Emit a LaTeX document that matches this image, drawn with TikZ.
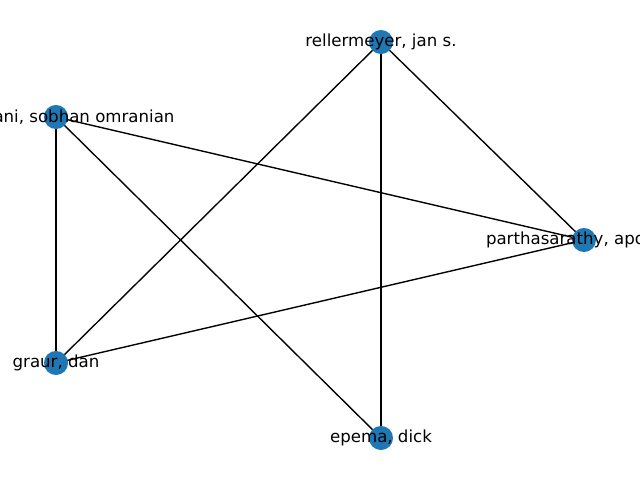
\documentclass[tikz,border=0pt]{standalone}
\usepackage{fontspec}
\setmainfont{DejaVu Sans}
\usetikzlibrary{backgrounds}
\definecolor{nodeblue}{HTML}{1F77B4}
\tikzstyle{author}=[circle, fill=nodeblue, minimum size=17.4pt, inner sep=0pt]
\tikzstyle{authorname}=[inner sep=0pt, font=\fontsize{12pt}{14pt}\selectfont]
\tikzstyle{coauthor}=[line width=1pt, black]

\begin{document}
\begin{tikzpicture}[x=0.01in, y=-0.01in]
\useasboundingbox (0,0) rectangle (640,480);
\clip (0,0) rectangle (640,480);
	\node[author](rell)at (381,42){};
\node[author](omra)at (56,117){};
\node[author](part)at (584,240){};
\node[author](grau)at (56,363){};
\node[author](epem)at (381,438){};

\begin{pgfonlayer}{background}
\draw [coauthor](rell.center) -- (part.center);
\draw [coauthor](rell.center) -- (epem.center);
\draw [coauthor](rell.center) -- (grau.center);

\draw [coauthor](omra.center) -- (part.center);
\draw [coauthor](omra.center) -- (grau.center);
\draw [coauthor](omra.center) -- (epem.center);

\draw [coauthor](grau.center) -- (part.center);
\end{pgfonlayer}

\node[authorname]at (rell){rellermeyer, jan s.};
\node[authorname]at (omra){khorasani, sobhan omranian};
\node[authorname]at (part){parthasarathy, apoorve};
\node[authorname]at (grau){graur, dan};
\node[authorname]at (epem){epema, dick};
\end{tikzpicture}
\end{document}
